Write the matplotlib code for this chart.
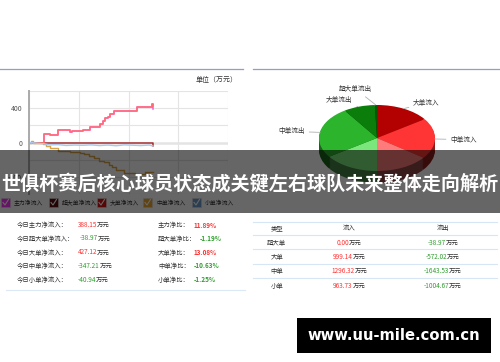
import matplotlib
matplotlib.use("Agg")
import matplotlib.pyplot as plt
from matplotlib.patches import Rectangle
from matplotlib.colors import to_rgb

plt.rcParams['font.family'] = ['Noto Sans CJK SC', 'DejaVu Sans']

title = "世俱杯赛后核心球员状态成关键左右球队未来整体走向解析"
watermark = "www.uu-mile.com.cn"
unit_label = "单位（万元）"

# intraday net inflow lines (minutes after open, 万元)
series_names = ["主力净流入", "超大单净流入", "大单净流入", "中单净流入", "小单净流入"]
line_colors = ["#ff55ee", "#a83232", "#ff6e6e", "#d9a548", "#a9c9ee"]
box_colors = ["#ff33ff", "#5a0a0a", "#d81010", "#f0a830", "#6c9ccc"]

t_big = [0, 18.6, 25.5, 35.5, 49.7, 52, 65, 74, 86, 89, 92, 95, 98, 102, 129.7, 148.5, 149.5]
v_big = [0, 104, 89, 143, 123, 135, 150, 175, 219, 255, 280, 300, 327, 362, 415, 445, 427.12]
v_main = [0, 104, 89, 143, 123, 135, 150, 175, 219, 255, 280, 300, 327, 362, 415, 445, 388.15]

t_xl = [0, 148.5, 149.5]
v_xl = [0, 0, -38.97]

t_mid = [0, 2, 5, 17, 20, 25, 35, 50, 62, 66, 72, 78, 84, 90, 97, 100, 105, 115, 122, 128, 140, 149.5]
v_mid = [0, 12, 0, -20, -38, -69, -96, -115, -125, -134, -160, -180, -211, -223, -260, -288,
         -326, -353, -360, -365, -346, -347.21]

t_small = [0, 18, 25, 35, 45, 55, 65, 75, 85, 95, 105, 115, 125, 135, 145, 149.5]
v_small = [0, -15, -28, -25, -35, -30, -33, -28, -36, -30, -38, -28, -32, -36, -30, -40.94]

# pie: in / out by order size
pie_labels = ["超大单流入", "大单流入", "中单流入", "小单流入", "小单流出", "中单流出", "大单流出", "超大单流出"]
pie_values = [0.00, 999.14, 1296.32, 963.73, 1004.67, 1643.53, 572.02, 38.97]
pie_colors = ["#8a0000", "#b30000", "#ff3535", "#ff7b7b", "#7be67b", "#2cb52c", "#0b7d0b", "#055a05"]

# summary block
sum_labels = ["今日主力净流入：", "今日超大单净流入：", "今日大单净流入：", "今日中单净流入：", "今日小单净流入："]
sum_values = ["388.15", "-38.97", "427.12", "-347.21", "-40.94"]
ratio_labels = ["主力净比：", "超大单净比：", "大单净比：", "中单净比：", "小单净比："]
ratio_values = ["11.89%", "-1.19%", "13.08%", "-10.63%", "-1.25%"]

# table
tbl_header = ["类型", "流入", "流出"]
tbl_types = ["超大单", "大单", "中单", "小单"]
tbl_in = ["0.00", "999.14", "1296.32", "963.73"]
tbl_out = ["-38.97", "-572.02", "-1643.53", "-1004.67"]

RED = "#ff3030"
GREEN = "#2e9e2e"
GRAY = "#333333"
fs = 4.6

fig = plt.figure(figsize=(5, 3.62), dpi=100)
bg = fig.add_axes([0, 0, 1, 1], zorder=-1)
bg.set_xlim(0, 500)
bg.set_ylim(362, 0)
bg.axis('off')
renderer = fig.canvas.get_renderer()


def colour_of(v):
    return GREEN if v.startswith('-') else RED


def money(x, y, num, ha='left'):
    t1 = bg.text(x, y, num, color=colour_of(num), fontsize=fs, va='center', ha='left')
    t2 = bg.annotate("万元", xy=(1, 0.5), xycoords=t1, va='center', ha='left',
                     color=GRAY, fontsize=fs)
    if ha == 'center':
        w = t1.get_window_extent(renderer).width + t2.get_window_extent(renderer).width
        t1.set_x(x - w / 2)


# separators at top
bg.plot([0, 243], [69, 69], color="#8e9fcc", lw=0.9)
bg.plot([253, 500], [69, 69], color="#8e9fcc", lw=0.9)
bg.text(217, 80, unit_label, fontsize=5, color=GRAY, ha='center', va='center')

# ---- line chart ----
ax = fig.add_axes([29 / 500, 1 - 194 / 362, 199 / 500, 103 / 362])
ax.plot(t_big, v_main, color=line_colors[0], lw=1.1, drawstyle='steps-post')
ax.plot(t_xl, v_xl, color=line_colors[1], lw=1.1, drawstyle='steps-post')
ax.plot(t_big, v_big, color=line_colors[2], lw=1.1, drawstyle='steps-post')
ax.plot(t_mid, v_mid, color=line_colors[3], lw=1.0, drawstyle='steps-post')
ax.plot(t_small, v_small, color=line_colors[4], lw=1.0)
ax.axhline(0, color="#9a9a9a", lw=1.0, zorder=0)
ax.set_xlim(0, 240)
ax.set_ylim(-600, 600)
ax.set_xticks([0, 60, 120, 180, 240])
ax.set_xticklabels([])
ax.set_yticks([-600, -400, -200, 0, 200, 400, 600])
ax.set_yticklabels(["", "-400", "", "0", "", "400", ""])
ax.tick_params(length=0, labelsize=5, labelcolor="#555555", pad=5)
ax.grid(True, color="#e4e4e4", lw=0.8)
ax.set_axisbelow(True)
for s in ["top", "right", "bottom"]:
    ax.spines[s].set_visible(False)
ax.spines["left"].set_color("#aaaaaa")
ax.spines["left"].set_linewidth(1.4)

# ---- 3D-ish pie ----
pax = fig.add_axes([295.8 / 500, 1 - 197.4 / 362, 162.4 / 500, 112.2 / 362])
dark = [tuple(c * 0.55 for c in to_rgb(col)) for col in pie_colors]
depth = 0.36
nl = 10
for k in range(nl, 0, -1):
    pax.pie(pie_values, colors=dark, startangle=90, counterclock=False,
            center=(0, -depth * k / nl), radius=1, wedgeprops=dict(linewidth=0))
pax.pie(pie_values, colors=pie_colors, startangle=90, counterclock=False,
        radius=1, wedgeprops=dict(linewidth=0))
pax.set_xlim(-1.4, 1.4)
pax.set_ylim(-1.8, 1.6)
pax.set_aspect('auto')
pax.axis('off')

# label layout for the slices whose labels show above the banner
label_layout = {
    "超大单流出": ((-0.02, 1.0), (-0.08, 1.48), 'right'),
    "大单流出": ((-0.33, 0.95), (-0.42, 1.15), 'right'),
    "中单流出": ((-0.98, 0.17), (-1.24, 0.2), 'right'),
    "大单流入": ((0.46, 0.89), (0.62, 1.06), 'left'),
    "中单流入": ((1.0, -0.03), (1.26, -0.05), 'left'),
}
for name in pie_labels:
    if name not in label_layout:
        continue
    anchor, pos, ha = label_layout[name]
    pax.annotate(name, xy=anchor, xytext=pos, ha=ha, va='center', fontsize=4.8,
                 color=GRAY, annotation_clip=False,
                 arrowprops=dict(arrowstyle='-', color="#b0b0b0", lw=0.6,
                                 shrinkA=1, shrinkB=0))

# ---- legend row (under the banner) ----
box_x = [1, 49, 97, 143, 192]
for i, name in enumerate(series_names):
    bx = box_x[i]
    bg.add_patch(Rectangle((bx, 198), 9, 9, facecolor=box_colors[i], edgecolor="#dddddd", lw=0.4))
    bg.plot([bx + 2, bx + 4, bx + 7.5], [202.5, 205, 199.5], color="white", lw=0.8)
    bg.text(bx + 13, 203, name, fontsize=4.2, color=GRAY, va='center')

# ---- summary block ----
rows_y = [225, 238.5, 252.5, 266, 280]
val_x = [77.7, 80, 77.7, 77.7, 77.7]
ratio_x = [193.3, 200, 193.3, 193.3, 193.3]
for i in range(5):
    y = rows_y[i]
    bg.text(17, y, sum_labels[i], fontsize=fs, color=GRAY, va='center')
    money(val_x[i], y, sum_values[i])
    bg.text(158, y, ratio_labels[i], fontsize=fs, color=GRAY, va='center')
    bg.text(ratio_x[i], y, ratio_values[i], fontsize=fs, color=colour_of(ratio_values[i]),
            va='center', fontweight='bold')
bg.plot([6, 245], [290, 290], color="#dce8f5", lw=0.8)

# ---- table ----
col_x = [276.7, 349.3, 442.7]
for yl in [221.7, 235, 249.3, 264, 278.3]:
    bg.plot([253, 497], [yl, yl], color="#d6e6f5", lw=0.8)
for j, h in enumerate(tbl_header):
    bg.text(col_x[j], 228.3, h, fontsize=fs, color=GRAY, ha='center', va='center')
tbl_y = [242.7, 256.7, 271.3, 285.7]
for i, name in enumerate(tbl_types):
    bg.text(col_x[0], tbl_y[i], name, fontsize=fs, color=GRAY, ha='center', va='center')
    money(col_x[1], tbl_y[i], tbl_in[i], ha='center')
    money(col_x[2], tbl_y[i], tbl_out[i], ha='center')

# ---- watermark ----
bg.add_patch(Rectangle((297, 318.3), 194, 34.4, facecolor="black", edgecolor="none"))
bg.text(394, 335.5, watermark, fontsize=10.6, color="white", fontweight='bold',
        family='DejaVu Sans', ha='center', va='center')

# ---- banner over everything ----
fig.patches.append(Rectangle((0, 1 - 213 / 362), 1, 63 / 362, transform=fig.transFigure,
                             facecolor="black", alpha=0.6, edgecolor="none", zorder=10))
fig.text(0.5, 1 - 183 / 362, title, fontsize=13.75, fontweight='bold', color="white",
         ha='center', va='center', zorder=11)

fig.savefig("out.png", dpi=100)
